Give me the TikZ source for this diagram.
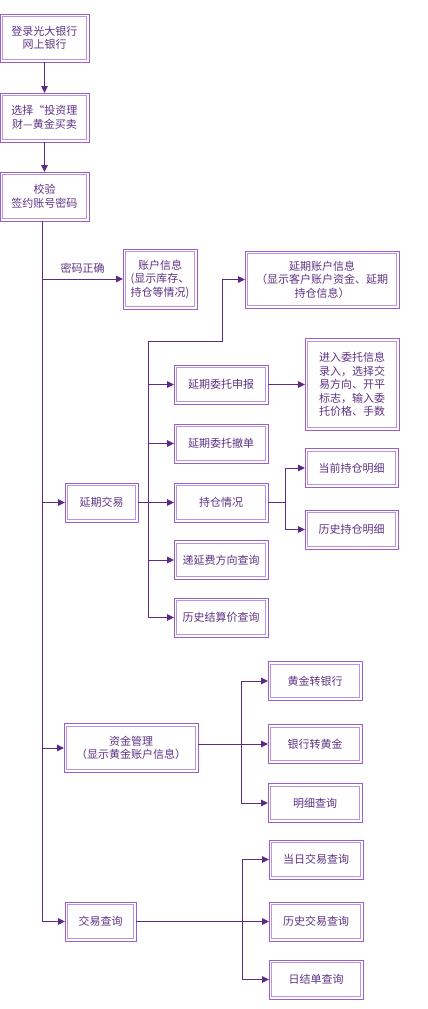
\documentclass[tikz,border=0pt]{standalone}
\usepackage{fontspec}
\newfontfamily\cjk{Noto Sans CJK SC}
\usepackage{tikz}
\usetikzlibrary{positioning, arrows.meta}

\definecolor{boxline}{RGB}{155,92,206}
\definecolor{boxinner}{RGB}{184,150,222}
\definecolor{wirecol}{RGB}{92,42,134}
\definecolor{txt}{RGB}{94,50,132}

\begin{document}
\begin{tikzpicture}[
        x=1pt, y=-1pt,
        font=\cjk\fontsize{11pt}{13.5pt}\selectfont,
        box/.style = {draw=boxline, line width=1pt, fill=white, text=txt, align=center,
            inner sep=0pt, outer sep=0pt, minimum width=94pt, minimum height=39pt,
            path picture={\draw[boxinner, line width=0.9pt]
                ([shift={(2.6pt,-2.6pt)}]path picture bounding box.north west) rectangle
                ([shift={(-2.6pt,2.6pt)}]path picture bounding box.south east);}},
        wire/.style = {draw=wirecol, line width=1pt},
        arrow/.style = {wire, -{Triangle[length=7pt, width=6.5pt]}},
        note/.style = {text=txt}
        ]
    \useasboundingbox (0,0) rectangle (428,1009);

        % Hauptspalte
        \node[box, minimum width=89pt, minimum height=48pt] (login) at (44.5,38) {登录光大银行\\网上银行};
        \node[box, minimum width=89pt, minimum height=49pt, below=31pt of login] (choose) {选择“投资理\\财—黄金买卖};
        \node[box, minimum width=89pt, minimum height=49pt, below=30pt of choose] (verify) {校验\\签约账号密码};
        \coordinate (trunk) at ([xshift=-2.5pt]verify.south);

        \node[box, minimum width=74pt, minimum height=60pt] (acct) at (160,279) {账户信息\\(显示库存、\\持仓等情况)};
        \node[box, minimum width=73pt] (defer) at (101.5,502.5) {延期交易};
        \node[box, minimum width=134pt, minimum height=49pt] (fund) at (131,748) {资金管理\\（显示黄金账户信息）};
        \node[box, minimum width=71pt] (query) at (100.5,921.5) {交易查询};

        %延期交易
        \node[box, right=36pt of defer] (hold) {持仓情况};
        \node[box, above=20pt of hold] (cancel) {延期委托撤单};
        \node[box, above=20pt of cancel] (order) {延期委托申报};
        \node[box, below=18.5pt of hold] (fee) {递延费方向查询};
        \node[box, below=18.5pt of fee] (settle) {历史结算价查询};
        \node[box, minimum width=154pt, minimum height=57pt] (dinfo) at (322,279.5) {延期账户信息\\（显示客户账户资金、延期\\持仓信息）};
        \node[box, minimum height=92pt, right=37pt of order] (einfo) {进入委托信息\\录入，选择交\\易方向、开平\\标志，输入委\\托价格、手数};
        \node[box, minimum width=93pt, right=37pt of hold, yshift=34.5pt] (curpos) {当前持仓明细};
        \node[box, minimum width=93pt, right=37pt of hold, yshift=-27pt] (histpos) {历史持仓明细};

        %资金管理
        \node[box] (b2g) at (315,744) {银行转黄金};
        \node[box, above=24pt of b2g] (g2b) {黄金转银行};
        \node[box, below=20pt of b2g] (detail) {明细查询};

        % 交易查询
        \node[box, right=133pt of query] (histq) {历史交易查询};
        \node[box, above=23pt of histq] (todayq) {当日交易查询};
        \node[box, below=19pt of histq] (dailyq) {日结单查询};

        % Pfeile
        \draw[arrow] (login) -- (choose);
        \draw[arrow] (choose) -- (verify);
        \draw[arrow] (trunk) |- (query);
        \draw[arrow] (trunk |- acct) -- node[note, above=2pt] {密码正确} (acct);
        \draw[arrow] (trunk |- defer) -- (defer);
        \draw[arrow] (trunk |- fund) -- (fund);

        \coordinate (dbus) at ([xshift=10pt]defer.east);
        \coordinate (dturn) at (222,341);
        \draw[wire] (defer) -- (dbus);
        \draw[arrow] (dbus |- settle) -- (dbus |- dturn) -- (dturn) |- (dinfo);
        \foreach \n in {order, cancel, hold, fee, settle}
            \draw[arrow] (dbus |- \n) -- (\n);
        \draw[arrow] (order) -- (einfo);

        \coordinate (hbus) at ([xshift=17pt]hold.east);
        \draw[wire] (hold) -- (hbus);
        \draw[arrow] (hbus) |- (curpos);
        \draw[arrow] (hbus) |- (histpos);

        \coordinate (fbus) at ([xshift=43pt]fund.east |- b2g);
        \draw[arrow] (fund.east |- b2g) -- (b2g);
        \draw[arrow] (fbus) |- (g2b);
        \draw[arrow] (fbus) |- (detail);

        \coordinate (qbus) at ([xshift=106pt]query.east);
        \draw[arrow] (query) -- (histq);
        \draw[arrow] (qbus) |- (todayq);
        \draw[arrow] (qbus) |- (dailyq);

    \end{tikzpicture}
\end{document}
